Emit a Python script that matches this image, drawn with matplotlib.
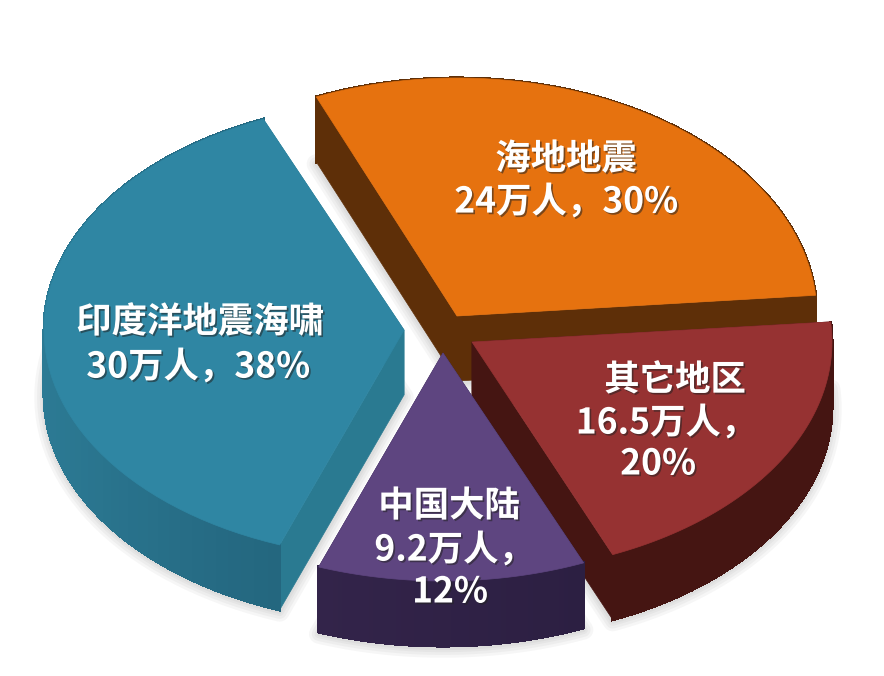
import numpy as np
import matplotlib
matplotlib.use('Agg')
import matplotlib.pyplot as plt
from matplotlib.patches import Polygon
import matplotlib.patheffects as pe

plt.rcParams['font.family'] = ['Noto Sans CJK SC', 'DejaVu Sans']

# data, clockwise from the top left
names = ['海地地震', '其它地区', '中国大陆', '印度洋地震海啸']
people = ['24', '16.5', '9.2', '30']
percent = [30, 20, 12, 38]

# layout
center = (438, 329)
radius_x = 360
radius_y = [238, 231, 228, 229]
depth = 65
start_angle = 113
# how far each slice is pulled out, in pixels
explode = [(19, -13), (34, 13), (5, 24), (-34, 1)]
draw_order = [0, 3, 1, 2]

top_colors = ['#e6720f', '#963232', '#5e4580', '#2f86a3']
radial_colors = ['#5e2f08', '#451512', '#2c1f42', '#2a7a91']
rim_from = ['#5e2f08', '#451512', '#2c1f42', '#22627a']
rim_to = ['#5e2f08', '#451512', '#33244a', '#2c7a94']

label_pos = [
    [(566, 159), (566, 202)],
    [(675, 380), (666, 423), (658, 464)],
    [(449, 506), (454, 550), (450, 592)],
    [(200, 322), (198, 367)],
]
label_lines = [
    [names[0], people[0] + '万人，' + str(percent[0]) + '%'],
    [names[1], people[1] + '万人，', str(percent[1]) + '%'],
    [names[2], people[2] + '万人，', str(percent[2]) + '%'],
    [names[3], people[3] + '万人，' + str(percent[3]) + '%'],
]


def mix(c1, c2, t):
    a = np.array(matplotlib.colors.to_rgb(c1))
    b = np.array(matplotlib.colors.to_rgb(c2))
    return a + (b - a) * t


def arc(apex, ry, a1, a2, n=60):
    ang = np.radians(np.linspace(a1, a2, n))
    return np.column_stack([apex[0] + radius_x * np.cos(ang), apex[1] - ry * np.sin(ang)])


fig = plt.figure(figsize=(8.84, 6.76), dpi=100)
ax = fig.add_axes([0, 0, 1, 1])
ax.set_xlim(0, 884)
ax.set_ylim(676, 0)
ax.axis('off')

# angles come from the percentages
edges = start_angle - np.cumsum([0] + percent) * 3.6
slices = []
for i in range(len(percent)):
    apex = (center[0] + explode[i][0], center[1] + explode[i][1])
    slices.append((apex, arc(apex, radius_y[i], edges[i], edges[i + 1])))

# soft shadow under every slice
for apex, rim in slices:
    outline = np.vstack([[apex], rim]) + [0, depth + 2]
    for lw in [14, 10, 6, 3]:
        ax.add_patch(Polygon(outline, closed=True, fc='none', ec='#555555', lw=lw, alpha=0.05,
                             joinstyle='round'))

for i in draw_order:
    apex, rim = slices[i]
    drop = np.array([0, depth])
    a = np.array(apex)
    # radial faces
    for p in [rim[0], rim[-1]]:
        ax.add_patch(Polygon([a, p, p + drop, a + drop], closed=True, fc=radial_colors[i],
                             ec=radial_colors[i], lw=0.5))
    # outer wall, strip by strip so it can shade
    for k in range(len(rim) - 1):
        t = np.clip((rim[k][0] - apex[0]) / -radius_x, 0, 1) ** 1.5 if i == 3 else k / (len(rim) - 1)
        col = mix(rim_from[i], rim_to[i], t)
        ax.add_patch(Polygon([rim[k], rim[k + 1], rim[k + 1] + drop, rim[k] + drop], closed=True,
                             fc=col, ec=col, lw=1.5, antialiased=False))
    ax.add_patch(Polygon(np.vstack([[a], rim]), closed=True, fc=top_colors[i], ec=top_colors[i], lw=0.5))

for lines, places in zip(label_lines, label_pos):
    for line, (x, y) in zip(lines, places):
        ax.text(x, y, line, color='white', fontsize=25.5, fontweight='bold', ha='center', va='center',
                path_effects=[pe.withSimplePatchShadow(offset=(1.2, -1.2), shadow_rgbFace='#222222', alpha=0.55)])

fig.savefig('out.png', dpi=100, facecolor='white')
